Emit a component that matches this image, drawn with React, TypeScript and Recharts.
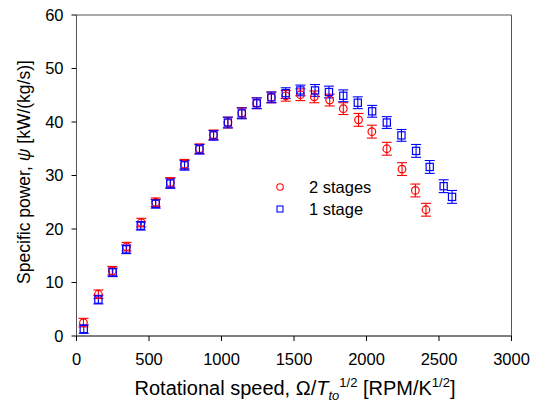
import React from "react";
import {
  ScatterChart,
  Scatter,
  XAxis,
  YAxis,
  ErrorBar,
  ReferenceLine,
  Legend,
  Label,
} from "recharts";

// 2 stages (red circles)
const twoStageSpeed = [48, 151, 247, 345, 447, 546, 647, 745, 848, 945, 1044, 1140, 1243, 1344, 1443, 1544, 1640, 1746, 1840, 1945, 2037, 2140, 2245, 2337, 2410];
const twoStagePower = [2.5, 7.8, 12.2, 16.7, 21.2, 25.0, 28.7, 32.1, 35.0, 37.6, 39.9, 41.7, 43.5, 44.6, 44.9, 45.1, 44.7, 44.1, 42.5, 40.4, 38.2, 35.0, 31.2, 27.2, 23.6];
const twoStageErr = [0.8, 0.8, 0.8, 0.8, 0.8, 0.8, 0.9, 0.9, 0.9, 0.9, 1.0, 1.0, 1.0, 1.0, 1.0, 1.1, 1.1, 1.1, 1.1, 1.2, 1.2, 1.2, 1.2, 1.2, 1.2];

// 1 stage (blue squares)
const oneStageSpeed = [50, 151, 250, 343, 443, 546, 647, 745, 848, 945, 1044, 1140, 1243, 1344, 1443, 1544, 1645, 1741, 1840, 1940, 2039, 2140, 2241, 2342, 2436, 2532, 2590];
const oneStagePower = [1.3, 6.8, 11.9, 16.2, 20.6, 24.7, 28.5, 31.9, 34.9, 37.5, 39.9, 41.6, 43.5, 44.6, 45.4, 45.9, 45.9, 45.6, 44.9, 43.6, 42.0, 39.9, 37.5, 34.6, 31.6, 28.0, 26.0];
const oneStageErr = [0.8, 0.8, 0.8, 0.8, 0.8, 0.8, 0.9, 0.9, 0.9, 0.9, 1.0, 1.0, 1.0, 1.0, 1.0, 1.0, 1.1, 1.1, 1.1, 1.1, 1.1, 1.1, 1.1, 1.2, 1.2, 1.2, 1.2];

const xTicks = [0, 500, 1000, 1500, 2000, 2500, 3000];
const yTicks = [0, 10, 20, 30, 40, 50, 60];

const FONT = "'Liberation Sans', Arial, sans-serif";
const RED = "#ff0000";
const BLUE = "#0000ff";
const BOX = "#555";

const twoStage = twoStageSpeed.map((x, i) => ({ x, y: twoStagePower[i], err: twoStageErr[i] }));
const oneStage = oneStageSpeed.map((x, i) => ({ x, y: oneStagePower[i], err: oneStageErr[i] }));

const CircleMark = (p: any) => (
  <circle cx={p.cx} cy={p.cy} r={3.8} fill="none" stroke={RED} strokeWidth={1.2} />
);
const SquareMark = (p: any) => (
  <rect x={p.cx - 3.6} y={p.cy - 3.6} width={7.2} height={7.2} fill="none" stroke={BLUE} strokeWidth={1.2} />
);

const XTitle = () => (
  <text x={295} y={395} textAnchor="middle" fontFamily={FONT} fontSize={20} fill="#000">
    Rotational speed, Ω/
    <tspan fontStyle="italic">T</tspan>
    <tspan fontStyle="italic" fontSize={13} dy={5}>to</tspan>
    <tspan fontSize={13} dy={-13}>1/2</tspan>
    <tspan fontSize={20} dy={8}> [RPM/K</tspan>
    <tspan fontSize={13} dy={-8}>1/2</tspan>
    <tspan fontSize={20} dy={8}>]</tspan>
  </text>
);

const YTitle = () => (
  <text
    x={0}
    y={0}
    transform="translate(30,172) rotate(-90)"
    textAnchor="middle"
    fontFamily={FONT}
    fontSize={17.5}
    fill="#000"
  >
    Specific power, <tspan fontStyle="italic">ψ</tspan> [kW/(kg/s)]
  </text>
);

const LegendBox = () => (
  <div style={{ fontFamily: FONT, fontSize: 16.5, color: "#000", lineHeight: "22px" }}>
    <div style={{ display: "flex", alignItems: "center" }}>
      <svg width={37} height={22}>
        <circle cx={8} cy={11} r={3.3} fill="none" stroke={RED} strokeWidth={1.1} />
      </svg>
      <span>2 stages</span>
    </div>
    <div style={{ display: "flex", alignItems: "center" }}>
      <svg width={37} height={22}>
        <rect x={5} y={8} width={6} height={6} fill="none" stroke={BLUE} strokeWidth={1.1} />
      </svg>
      <span>1 stage</span>
    </div>
  </div>
);

export default function App() {
  return (
    <div style={{ position: "absolute", left: 0, top: 0, width: 543, height: 409, background: "#fff" }}>
      <ScatterChart width={543} height={409} margin={{ top: 15, right: 31.5, bottom: 0, left: 0 }}>
        <XAxis
          type="number"
          dataKey="x"
          domain={[0, 3000]}
          ticks={xTicks}
          tickSize={5}
          tickMargin={12}
          height={73}
          axisLine={{ stroke: "#000" }}
          tickLine={{ stroke: "#000" }}
          tick={{ fill: "#000", fontSize: 16.5, fontFamily: FONT }}
          allowDataOverflow
        >
          <Label content={() => <XTitle />} />
        </XAxis>
        <YAxis
          type="number"
          dataKey="y"
          domain={[0, 60]}
          ticks={yTicks}
          tickSize={5}
          tickMargin={8}
          width={76.5}
          axisLine={{ stroke: BOX }}
          tickLine={{ stroke: "#000" }}
          tick={{ fill: "#000", fontSize: 16.5, fontFamily: FONT }}
          allowDataOverflow
        >
          <Label content={() => <YTitle />} />
        </YAxis>
        <ReferenceLine y={60} stroke={BOX} strokeWidth={1} />
        <ReferenceLine x={3000} stroke={BOX} strokeWidth={1} />
        <Legend
          layout="vertical"
          align="center"
          verticalAlign="middle"
          content={() => <LegendBox />}
          wrapperStyle={{ position: "absolute", left: 272, top: 176, width: 120 }}
        />
        <Scatter name="2 stages" data={twoStage} shape={CircleMark} isAnimationActive={false}>
          <ErrorBar dataKey="err" direction="y" width={5} stroke={RED} strokeWidth={1.1} isAnimationActive={false} />
        </Scatter>
        <Scatter name="1 stage" data={oneStage} shape={SquareMark} isAnimationActive={false}>
          <ErrorBar dataKey="err" direction="y" width={5} stroke={BLUE} strokeWidth={1.1} isAnimationActive={false} />
        </Scatter>
      </ScatterChart>
    </div>
  );
}
